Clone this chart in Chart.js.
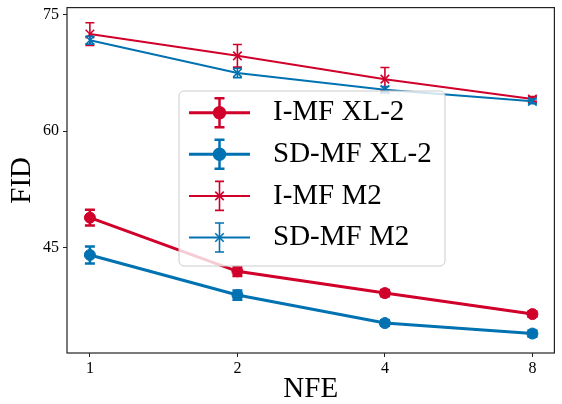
<!DOCTYPE html>
<html>
<head>
<meta charset="utf-8">
<script src="https://cdn.jsdelivr.net/npm/chart.js@4"></script>
<style>
  html,body{margin:0;padding:0;background:#fff}
  canvas{display:block}
</style>
</head>
<body>
<canvas id="fidChart" width="562" height="404"></canvas>
<script>
// FID vs number of function evaluations, mean +- std per model
const nfe = [1, 2, 4, 8];
const yTicks = [45, 60, 75];
const seriesNames = ["I-MF XL-2", "SD-MF XL-2", "I-MF M2", "SD-MF M2"];

const imfXL = [48.9, 42.0, 39.2, 36.5];
const imfXLErr = [1.0, 0.6, 0.4, 0.35];
const sdmfXL = [44.1, 38.95, 35.35, 34.0];
const sdmfXLErr = [1.1, 0.6, 0.35, 0.4];
const imfM2 = [72.5, 69.7, 66.7, 64.15];
const imfM2Err = [1.45, 1.45, 1.5, 0.3];
const sdmfM2 = [71.7, 67.5, 65.35, 63.85];
const sdmfM2Err = [0.5, 0.6, 0.4, 0.3];

const RED = "#d0002b", BLUE = "#0072b2";
const SERIF = "'Liberation Serif','Times New Roman',serif";

function series(i, ys, errs, color, thick){
  return {
    label: seriesNames[i],
    data: nfe.map((x,k)=>({x, y: ys[k]})),
    errors: errs,
    borderColor: color,
    backgroundColor: color,
    borderWidth: thick ? 3 : 2,
    errWidth: thick ? 2.5 : 1.6,
    capHalf: thick ? 5 : 4.5,
    pointStyle: thick ? "circle" : "crossRot",
    pointRadius: thick ? 5.5 : 6,
    pointBorderWidth: thick ? 1 : 1.6,
    pointBackgroundColor: color,
    pointBorderColor: color,
    tension: 0,
    order: 4 - i
  };
}

const datasets = [
  series(0, imfXL, imfXLErr, RED, true),
  series(1, sdmfXL, sdmfXLErr, BLUE, true),
  series(2, imfM2, imfM2Err, RED, false),
  series(3, sdmfM2, sdmfM2Err, BLUE, false)
];

function errBar(ctx, x, top, bot, half){
  ctx.beginPath();
  ctx.moveTo(x, top); ctx.lineTo(x, bot);
  ctx.moveTo(x-half, top); ctx.lineTo(x+half, top);
  ctx.moveTo(x-half, bot); ctx.lineTo(x+half, bot);
  ctx.stroke();
}

const errorBars = {
  id: "errorBars",
  beforeDatasetDraw(chart, args){
    const ds = chart.data.datasets[args.index];
    if(!ds.errors) return;
    const ctx = chart.ctx, y = chart.scales.y;
    ctx.save();
    ctx.strokeStyle = ds.borderColor;
    ctx.lineWidth = ds.errWidth;
    args.meta.data.forEach((pt,i)=>{
      const v = ds.data[i].y, e = ds.errors[i];
      errBar(ctx, pt.x, y.getPixelForValue(v+e), y.getPixelForValue(v-e), ds.capHalf);
    });
    ctx.restore();
  }
};

// box around the plot area
const frame = {
  id: "frame",
  afterDatasetsDraw(chart){
    const {ctx, chartArea:a} = chart;
    ctx.save();
    ctx.strokeStyle = "#222";
    ctx.lineWidth = 1.2;
    ctx.strokeRect(a.left, a.top, a.right-a.left, a.bottom-a.top);
    ctx.restore();
  }
};

// matplotlib-style legend with line, marker and error bar handles
const boxLegend = {
  id: "boxLegend",
  afterDraw(chart){
    const ctx = chart.ctx;
    const bx = 179, by = 91, bw = 266, bh = 175;
    ctx.save();
    ctx.beginPath();
    ctx.roundRect(bx, by, bw, bh, 5);
    ctx.fillStyle = "rgba(255,255,255,0.8)";
    ctx.fill();
    ctx.strokeStyle = "#cccccc";
    ctx.lineWidth = 1;
    ctx.stroke();

    chart.data.datasets.forEach((ds,i)=>{
      const cy = 112.7 + i*41.6, mx = 219.5;
      ctx.strokeStyle = ds.borderColor;
      ctx.lineWidth = ds.borderWidth;
      ctx.beginPath();
      ctx.moveTo(189, cy); ctx.lineTo(250, cy);
      ctx.stroke();
      ctx.lineWidth = ds.errWidth;
      errBar(ctx, mx, cy-14.5, cy+14.5, ds.capHalf);
      ctx.fillStyle = ds.borderColor;
      ctx.strokeStyle = ds.borderColor;
      Chart.helpers.drawPoint(ctx, {
        pointStyle: ds.pointStyle,
        radius: ds.pointRadius,
        borderWidth: ds.pointBorderWidth,
        rotation: 0
      }, mx, cy);
      ctx.fillStyle = "#000";
      ctx.font = "29px " + SERIF;
      ctx.textBaseline = "middle";
      ctx.textAlign = "left";
      ctx.fillText(ds.label, 273, cy);
    });
    ctx.restore();
  }
};

new Chart(document.getElementById("fidChart"), {
  type: "line",
  data: { datasets },
  plugins: [errorBars, frame, boxLegend],
  options: {
    responsive: false,
    animation: false,
    devicePixelRatio: 1,
    layout: { padding: { top: 1, right: 5, left: 0, bottom: 0 } },
    plugins: { legend: { display: false }, tooltip: { enabled: false } },
    scales: {
      x: {
        type: "logarithmic",
        min: 0.898,
        max: 8.87,
        afterBuildTicks: s => { s.ticks = nfe.map(v=>({value:v})); },
        afterFit: s => { s.height = 51; s.paddingLeft = 0; s.paddingRight = 0; },
        ticks: {
          callback: v => String(v),
          autoSkip: false, maxRotation: 0,
          color: "#000", padding: 2,
          font: { family: SERIF, size: 16 }
        },
        grid: { drawOnChartArea: false, tickLength: 4, color: "#222", lineWidth: 1 },
        border: { display: false },
        title: {
          display: true, text: "NFE", color: "#000",
          padding: { top: 0, bottom: 0 },
          font: { family: SERIF, size: 29, lineHeight: 1 }
        }
      },
      y: {
        type: "linear",
        min: 31.5,
        max: 75.9,
        afterBuildTicks: s => { s.ticks = yTicks.map(v=>({value:v})); },
        afterFit: s => { s.width = 67; s.paddingTop = 0; s.paddingBottom = 0; },
        ticks: {
          color: "#000", padding: 4,
          font: { family: SERIF, size: 16 }
        },
        grid: { drawOnChartArea: false, tickLength: 4, color: "#222", lineWidth: 1 },
        border: { display: false },
        title: {
          display: true, text: "FID", color: "#000",
          padding: { top: 8, bottom: 0 },
          font: { family: SERIF, size: 29, lineHeight: 1 }
        }
      }
    }
  }
});
</script>
</body>
</html>
